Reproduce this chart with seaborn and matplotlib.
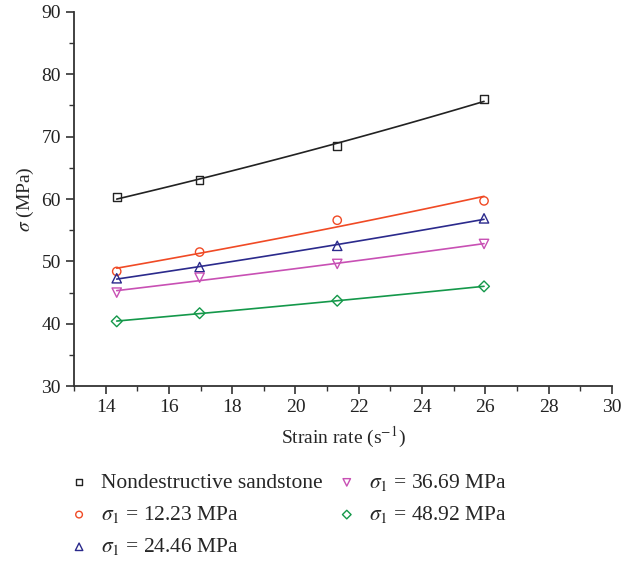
import numpy as np
import pandas as pd
import matplotlib
matplotlib.use("Agg")
import matplotlib.pyplot as plt
from matplotlib.ticker import MultipleLocator
import seaborn as sns

strain_rate = [14.35, 16.97, 21.32, 25.96]
nondestructive = [60.3, 63.0, 68.5, 76.0]
s1_12_23 = [48.4, 51.5, 56.6, 59.7]
s1_24_46 = [47.3, 49.1, 52.5, 56.9]
s1_36_69 = [45.0, 47.4, 49.6, 52.8]
s1_48_92 = [40.4, 41.7, 43.7, 46.0]

labels = ["Nondestructive sandstone",
          r"$\sigma_1$ = 12.23 MPa",
          r"$\sigma_1$ = 24.46 MPa",
          r"$\sigma_1$ = 36.69 MPa",
          r"$\sigma_1$ = 48.92 MPa"]
series = [nondestructive, s1_12_23, s1_24_46, s1_36_69, s1_48_92]
colors = ["#222222", "#f04a25", "#2b2a8c", "#c850b4", "#14984a"]
markers = ["s", "o", "^", "v", "D"]
msizes = [30, 36, 45, 45, 30]

sns.set_style("ticks")
plt.rcParams["font.family"] = ["Liberation Serif", "DejaVu Serif"]
plt.rcParams["mathtext.fontset"] = "stix"

fig = plt.figure(figsize=(6.38, 5.63), dpi=100)
ax = fig.add_axes([0.116, 0.314, 0.843, 0.665])

xfit = np.linspace(min(strain_rate), max(strain_rate), 100)
for vals, lab, c, m, s in zip(series, labels, colors, markers, msizes):
    b, a = np.polyfit(strain_rate, np.log(vals), 1)
    yfit = np.exp(a + b * xfit)
    sns.lineplot(x=xfit, y=yfit, ax=ax, color=c, linewidth=1.2)
    sns.scatterplot(x=strain_rate, y=vals, ax=ax, marker=m, s=s,
                    facecolor="none", edgecolor=c, linewidth=1.0,
                    label=lab, zorder=3)

ax.set_xlim(13, 30)
ax.set_ylim(30, 90)
ax.xaxis.set_major_locator(MultipleLocator(2))
ax.xaxis.set_minor_locator(MultipleLocator(1))
ax.yaxis.set_major_locator(MultipleLocator(10))
ax.yaxis.set_minor_locator(MultipleLocator(5))
ax.tick_params(which="major", direction="out", length=6, width=1.2,
               labelsize=14, color="#333333", labelcolor="#222222")
ax.tick_params(which="minor", direction="out", length=3.5, width=1.0,
               color="#333333")
for sp in ["left", "bottom"]:
    ax.spines[sp].set_linewidth(1.3)
    ax.spines[sp].set_color("#333333")
sns.despine(ax=ax)

ax.set_xlabel(r"Strain rate (s$^{-1}$)", fontsize=14, labelpad=6)
ax.set_ylabel(r"$\sigma$ (MPa)", fontsize=14, labelpad=4)

handles, labs = ax.get_legend_handles_labels()
ax.legend(handles, labs, ncol=2, loc="upper left",
          bbox_to_anchor=(0.0767, 0.196), bbox_transform=fig.transFigure,
          frameon=False, fontsize=15.5, handletextpad=0.52, columnspacing=0.62,
          labelspacing=0.52, markerscale=0.8, handlelength=1.0)

fig.savefig("out.png", dpi=100)
